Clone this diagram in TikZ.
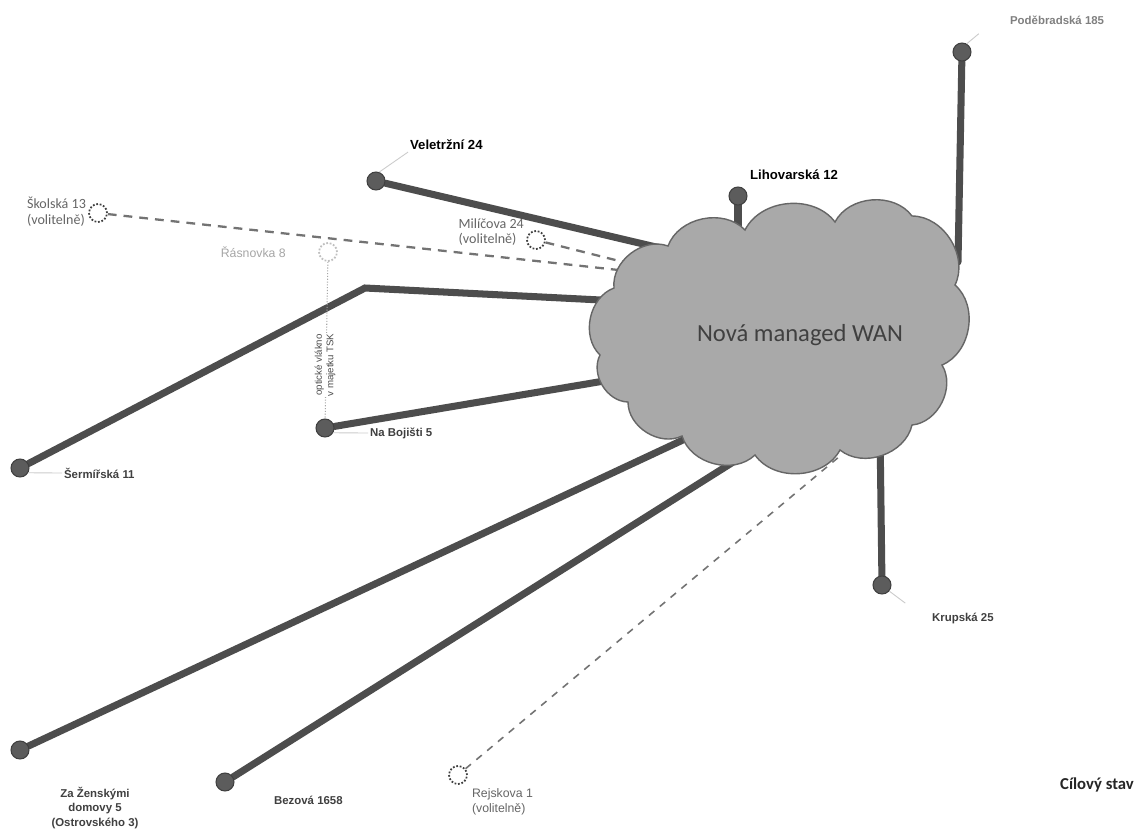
\documentclass[tikz,border=0pt]{standalone}
\usepackage{fontspec}
\setmainfont{Liberation Sans}
\newfontfamily\calibri{Carlito}
\usepackage{xcolor}
\definecolor{linkcolor}{HTML}{4D4D4D}
\definecolor{sitecolor}{HTML}{5C5C5C}
\definecolor{cloudcolor}{HTML}{A9A9A9}
\definecolor{labelcolor}{HTML}{404040}
\usetikzlibrary{backgrounds, calc}

\begin{document}
\begin{tikzpicture}[x=0.02cm, y=-0.02cm,
  site/.style={circle, fill=sitecolor, draw=sitecolor!70!black, line width=0.6pt, minimum size=0.36cm, inner sep=0pt},
  optsite/.style={circle, draw=black!75, densely dotted, line width=1pt, minimum size=0.36cm, inner sep=0pt},
  link/.style={draw=linkcolor, line width=4pt, line cap=round},
  optlink/.style={draw=gray!90!black, line width=1.3pt, dash pattern=on 5pt off 4pt},
  lbl/.style={font=\bfseries\fontsize{6.5}{7.5}\selectfont, text=labelcolor, inner sep=1pt},
  optlbl/.style={font=\calibri\fontsize{8}{9}\selectfont, text=black!60, align=left, inner sep=1pt},
  leader/.style={draw=black!20, line width=0.5pt},
  puff/.style={bend left=58}]
  \useasboundingbox (0,0) rectangle (1143,839);

  % cloud
  \filldraw[fill=cloudcolor, draw=black!60, line width=0.8pt]
    (600,355) to[puff] (614,288) to[puff] (668,246) to[puff] (745,230) to[puff] (835,222)
    to[puff] (912,216) to[puff] (955,285) to[puff] (942,365) to[puff] (912,425)
    to[puff] (840,450) to[puff] (755,455) to[puff] (682,436) to[puff] (628,402)
    to[puff] (600,355) -- cycle;
  \node[font=\calibri\fontsize{14}{16}\selectfont, text=black!75] (wan) at (800,335) {Nová managed WAN};

  % sites
  \node[site] (pod) at (962,52) {};
  \node[site] (lih) at (738,196) {};
  \node[site] (vel) at (376,181) {};
  \node[optsite] (sko) at (98,213) {};
  \node[optsite] (mil) at (536,240) {};
  \node[optsite, draw=black!25] (ras) at (328,252) {};
  \node[site] (ser) at (20,468) {};
  \node[site] (boj) at (325,428) {};
  \node[site] (zen) at (20,750) {};
  \node[site] (bez) at (225,782) {};
  \node[optsite] (rej) at (458,775) {};
  \node[site] (kru) at (882,585) {};

  % ends in the cloud
  \coordinate (wpod) at (958,262);
  \coordinate (wlih) at (738,250);
  \coordinate (wvel) at (690,255);
  \coordinate (wsko) at (655,274);
  \coordinate (wmil) at (655,270);
  \coordinate (serbend) at (365,288);
  \coordinate (wser) at (640,302);
  \coordinate (wboj) at (622,378);
  \coordinate (wzen) at (700,432);
  \coordinate (wbez) at (765,442);
  \coordinate (wrej) at (840,456);
  \coordinate (wkru) at (880,430);

  \begin{pgfonlayer}{background}
    \fill[white] (0,0) rectangle (1143,839);
    \draw[link] (pod) -- (wpod);
    \draw[link] (lih) -- (wlih);
    \draw[link] (vel) -- (wvel);
    \draw[link] (ser) -- (serbend) -- (wser);
    \draw[link] (boj) -- (wboj);
    \draw[link] (zen) -- (wzen);
    \draw[link] (bez) -- (wbez);
    \draw[link] (kru) -- (wkru);
    \draw[optlink] (sko) -- (wsko);
    \draw[optlink] (mil) -- (wmil);
    \draw[optlink, line width=0.9pt, dash pattern=on 4pt off 4pt] (rej) -- (wrej);
  \end{pgfonlayer}
  \draw[black!35, densely dotted, line width=0.6pt] (ras) -- (boj);
  \node[font=\fontsize{5.5}{6.5}\selectfont, text=black!70, fill=white, inner sep=0.5pt, rotate=90, align=center]
    (raslink) at (325,365) {optické vlákno\\v majetku TSK};

  % labels
  \node[lbl, anchor=west, text=black!50] (podlbl) at (1008,20) {Poděbradská 185};
  \node[lbl, anchor=west, text=black, font=\bfseries\fontsize{7.5}{9}\selectfont] (lihlbl) at (748,175) {Lihovarská 12};
  \node[lbl, anchor=west, text=black, font=\bfseries\fontsize{7.5}{9}\selectfont] (vellbl) at (408,145) {Veletržní 24};
  \node[optlbl, anchor=east] (skolbl) at (88,212) {Školská 13\\(volitelně)};
  \node[optlbl, anchor=east] (millbl) at (526,232) {Milíčova 24\\(volitelně)};
  \node[font=\fontsize{7}{8}\selectfont, text=black!35, anchor=east] (raslbl) at (292,252) {Řásnovka 8};
  \node[lbl, anchor=west] (serlbl) at (62,473) {Šermířská 11};
  \node[lbl, anchor=west] (bojlbl) at (368,433) {Na Bojišti 5};
  \node[lbl, align=center, font=\bfseries\fontsize{6.5}{8.5}\selectfont] (zenlbl) at (95,808) {Za Ženskými\\domovy 5\\(Ostrovského 3)};
  \node[lbl, anchor=west] (bezlbl) at (272,800) {Bezová 1658};
  \node[lbl, anchor=west, align=left, font=\fontsize{7}{8.5}\selectfont, text=black!60] (rejlbl) at (470,802) {Rejskova 1\\(volitelně)};
  \node[lbl, anchor=west] (krulbl) at (930,618) {Krupská 25};
  \node[font=\calibri\bfseries\fontsize{9.5}{11}\selectfont, text=black!85] (stav) at (1097,785) {Cílový stav};

  % leaders
  \draw[leader] (vel.70) -- (vellbl.south west);
  \draw[leader] (pod.60) -- ++(12,-10);
  \draw[leader] (boj.-30) -- (bojlbl.west);
  \draw[leader] (ser.-30) -- (serlbl.west);
  \draw[leader] (kru.-40) -- ++(16,12);
\end{tikzpicture}
\end{document}
